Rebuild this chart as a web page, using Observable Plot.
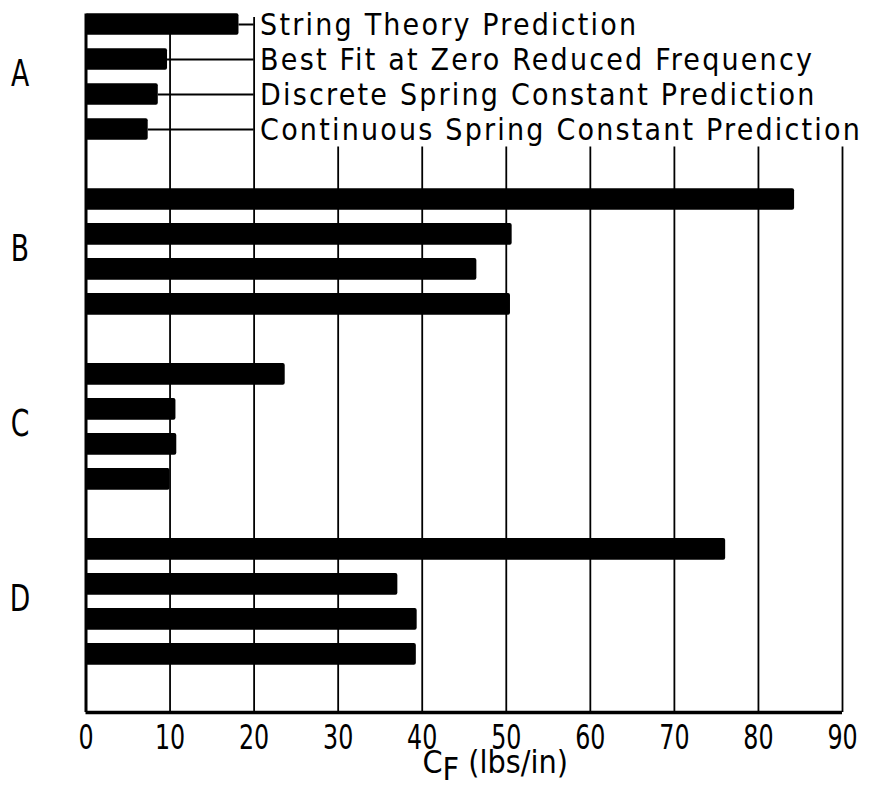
<!DOCTYPE html>
<html>
<head>
<meta charset="utf-8">
<script src="https://cdn.jsdelivr.net/npm/d3@7"></script>
<script src="https://cdn.jsdelivr.net/npm/@observablehq/plot@0.6"></script>
<style>
  body { margin: 0; background: #fff; }
</style>
</head>
<body>
<div id="chart"></div>
<script>
// Case labels down the left side
const groups = ["A", "B", "C", "D"];

// One bar per method in every case, in this order from top to bottom
const series = [
  "String Theory Prediction",
  "Best Fit at Zero Reduced Frequency",
  "Discrete Spring Constant Prediction",
  "Continuous Spring Constant Prediction"
];

// C_F (lbs/in) for each case, in the order of `series`
const valuesA = [18.2, 9.7, 8.6, 7.4];
const valuesB = [84.3, 50.7, 46.5, 50.5];
const valuesC = [23.7, 10.7, 10.8, 10.0];
const valuesD = [76.1, 37.1, 39.4, 39.3];

// Horizontal axis
const xTicks = [0, 10, 20, 30, 40, 50, 60, 70, 80, 90];
const xLabel = "CF (lbs/in)";

// The legend entries hang off case A's bars and end on this C_F value
const legendX = 20;

const allValues = [valuesA, valuesB, valuesC, valuesD];
const slotsPerGroup = series.length + 1; // one empty row between cases

const rows = groups.flatMap((g, gi) =>
  allValues[gi].map((v, si) => ({
    group: g,
    series: series[si],
    value: v,
    slot: gi * slotsPerGroup + si
  }))
);

const lastSlot = (groups.length - 1) * slotsPerGroup + series.length - 1;
const yTop = -0.3;               // upper edge of the first bar
const yBottom = lastSlot + 1.66; // where the horizontal axis sits
const half = 0.31;               // half bar thickness, in rows

const legendRows = rows.filter(d => d.group === groups[0]);
const groupMarks = groups.map((g, gi) => ({
  label: g,
  mid: gi * slotsPerGroup + (series.length - 1) / 2
}));

// Grid lines right of the legend column stop beneath the legend text
const grid = xTicks.filter(t => t > 0).map(t => ({
  x: t,
  from: t <= legendX ? -0.2 : series.length - 0.5
}));

const font = "'DejaVu Sans Condensed', 'DejaVu Sans', sans-serif";

const chart = Plot.plot({
  width: 869,
  height: 796,
  marginLeft: 85.5,
  marginRight: 27,
  marginTop: 13.5,
  marginBottom: 84,
  style: { fontFamily: font, color: "#000", background: "#fff" },
  x: { domain: [0, 90], axis: null },
  y: { domain: [yBottom, yTop], axis: null },
  marks: [
    Plot.ruleX(grid, { x: "x", y1: "from", y2: yBottom, stroke: "#000", strokeWidth: 1.8 }),
    Plot.ruleY(legendRows, { y: "slot", x1: "value", x2: legendX, stroke: "#000", strokeWidth: 2 }),
    Plot.rect(rows, {
      x1: 0,
      x2: "value",
      y1: d => d.slot - half,
      y2: d => d.slot + half,
      fill: "#000",
      rx: 2
    }),
    Plot.ruleX([0], { y1: yTop, y2: yBottom, stroke: "#000", strokeWidth: 3 }),
    Plot.ruleY([yBottom], { x1: 0, x2: 90, stroke: "#000", strokeWidth: 3.5 }),
    Plot.text(legendRows, {
      x: legendX,
      y: "slot",
      text: "series",
      textAnchor: "start",
      dx: 6,
      dy: 1,
      fontSize: 30,
      fill: "#000"
    }),
    Plot.text(groupMarks, {
      x: 0,
      y: "mid",
      text: "label",
      dx: -66,
      dy: -3,
      fontSize: 37,
      fill: "#000"
    }),
    Plot.axisX(xTicks, {
      tickSize: 0,
      tickPadding: 13.5,
      fontSize: 33,
      label: null,
      fill: "#000"
    }),
    Plot.text([xLabel], {
      frameAnchor: "bottom",
      text: d => d,
      dx: 31,
      dy: 60,
      fontSize: 32,
      fill: "#000"
    })
  ]
});

document.getElementById("chart").append(chart);

// Narrow a text element horizontally about its own centre
function squeeze(el, s) {
  const g = document.createElementNS("http://www.w3.org/2000/svg", "g");
  el.parentNode.insertBefore(g, el);
  g.appendChild(el);
  const bb = g.getBBox();
  const cx = bb.x + bb.width / 2;
  g.setAttribute("transform", `translate(${cx},0) scale(${s},1) translate(${-cx},0)`);
}

const tickText = new Set(xTicks.map(String));
const groupText = new Set(groups);
const seriesText = new Set(series);

d3.select(chart).selectAll("text").each(function () {
  const content = this.textContent;
  if (tickText.has(content) || groupText.has(content)) {
    squeeze(this, 0.8);
  } else if (seriesText.has(content)) {
    this.style.letterSpacing = "2.2px";
  } else if (content === xLabel) {
    // C with a subscript F
    const t = d3.select(this);
    t.text(null);
    t.append("tspan").text("C");
    t.append("tspan").attr("dy", 7).text("F");
    t.append("tspan").attr("dy", -7).text(" (lbs/in)");
  }
});
</script>
</body>
</html>
